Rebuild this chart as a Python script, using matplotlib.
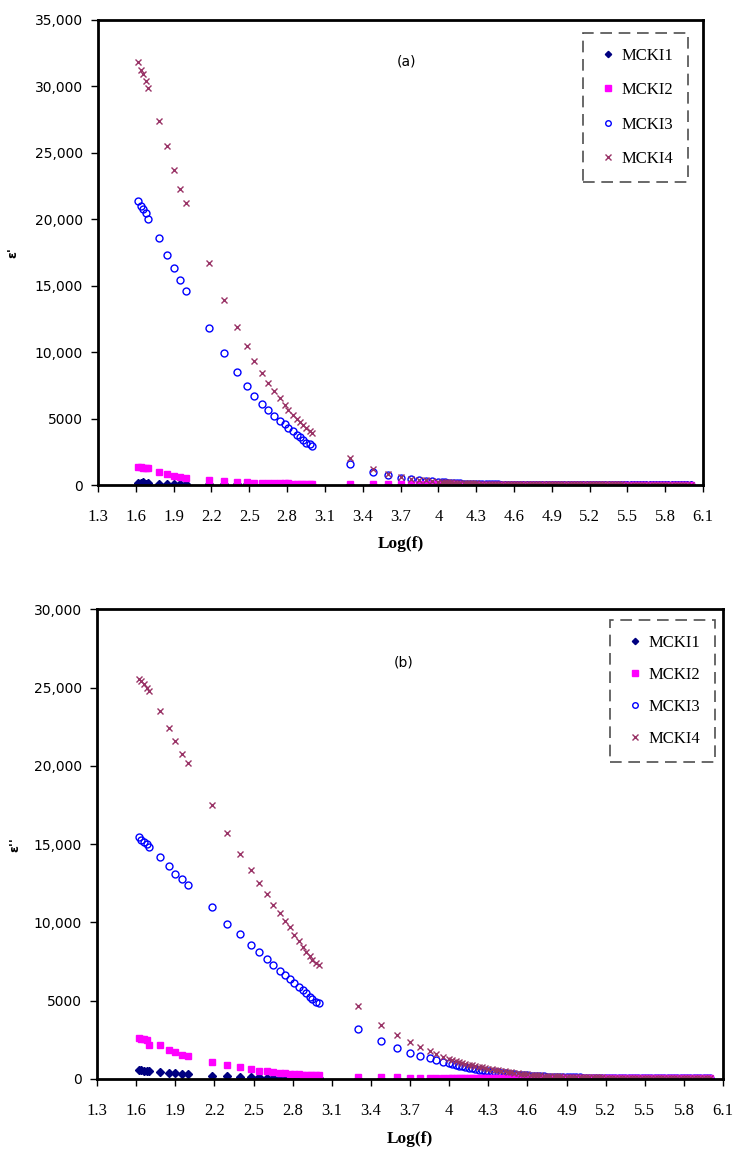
import numpy as np
import matplotlib
matplotlib.use("Agg")
import matplotlib.pyplot as plt
from matplotlib.ticker import FuncFormatter

# log10 of measuring frequency (Hz)
log_f = [1.62, 1.64, 1.66, 1.68, 1.70, 1.78, 1.85, 1.90, 1.95, 2.00,
         2.18, 2.30, 2.40, 2.48, 2.54, 2.60, 2.65, 2.70, 2.74, 2.78,
         2.81, 2.85, 2.88, 2.90, 2.93, 2.95, 2.98, 3.00,
         3.30, 3.48, 3.60, 3.70, 3.78, 3.85, 3.90, 3.95, 4.00,
         4.025, 4.05, 4.075, 4.10, 4.125, 4.15, 4.175, 4.20,
         4.225, 4.25, 4.275, 4.30, 4.325, 4.35, 4.375, 4.40,
         4.425, 4.45, 4.475, 4.50, 4.525, 4.55, 4.575, 4.60,
         4.625, 4.65, 4.675, 4.70, 4.725, 4.75, 4.775, 4.80,
         4.825, 4.85, 4.875, 4.90, 4.925, 4.95, 4.975, 5.00,
         5.025, 5.05, 5.075, 5.10, 5.125, 5.15, 5.175, 5.20,
         5.225, 5.25, 5.275, 5.30, 5.325, 5.35, 5.375, 5.40,
         5.425, 5.45, 5.475, 5.50, 5.525, 5.55, 5.575, 5.60,
         5.625, 5.65, 5.675, 5.70, 5.725, 5.75, 5.775, 5.80,
         5.825, 5.85, 5.875, 5.90, 5.925, 5.95, 5.975, 6.00]

labels = ["MCKI1", "MCKI2", "MCKI3", "MCKI4"]

# (a) real part eps'
eps1_mcki1 = [150, 120, 200, 110, 160, 90, 80, 70, 70, 60,
              60, 50, 45, 40, 38, 36, 34, 32, 30, 30, 28, 28, 26, 26, 25, 25, 24, 24,
              20, 18, 17, 16, 15, 15, 14, 14, 13,
              13, 12, 12, 12, 11, 11, 11, 10,  10, 10, 10, 9, 9, 9, 9, 9,
              9, 8, 8, 8, 8, 8, 8, 8,  8, 7, 7, 7, 7, 7, 7, 7,
              7, 7, 7, 6, 6, 6, 6, 6,  6, 6, 6, 6, 6, 6, 6, 6,
              6, 5, 5, 5, 5, 5, 5, 5,  5, 5, 5, 5, 5, 5, 5, 5,
              5, 5, 5, 5, 5, 5, 5, 5,  5, 5, 5, 5, 5, 5, 5, 5]
eps1_mcki2 = [1380, 1330, 1300, 1280, 1250, 950, 820, 700, 620, 520,
              400, 320, 260, 220, 190, 170, 150, 140, 130, 120, 115, 110, 105, 100, 95, 92, 90, 88,
              70, 60, 55, 50, 48, 46, 45, 44, 43,
              43, 42, 41, 41, 40, 40, 39, 39,  39, 38, 38, 38, 37, 37, 37, 36,
              36, 36, 36, 35, 35, 35, 35, 35,  34, 34, 34, 34, 34, 33, 33, 33,
              33, 33, 33, 33, 32, 32, 32, 32,  32, 32, 32, 31, 31, 31, 31, 31,
              31, 31, 30, 30, 30, 30, 30, 30,  30, 30, 30, 30, 29, 29, 29, 29,
              29, 29, 29, 29, 29, 29, 29, 28,  28, 28, 28, 28, 28, 28, 28, 28]
eps1_mcki3 = [21400, 21000, 20800, 20500, 20000, 18600, 17300, 16300, 15400, 14600,
              11800, 9900, 8500, 7470, 6700, 6100, 5640, 5220, 4840, 4590,
              4300, 4050, 3800, 3600, 3400, 3200, 3050, 2900,
              1580, 1000, 780, 560, 430, 350, 300, 270, 230,
              215, 195, 175, 160, 145, 130, 118, 106,  96, 86, 78, 70, 64, 58, 53, 49,
              46, 43, 41, 39, 38, 37, 36, 35,  35, 34, 34, 34, 33, 33, 33, 33,
              33, 32, 32, 32, 32, 32, 31, 31,  31, 31, 31, 31, 30, 30, 30, 30,
              30, 30, 30, 30, 29, 29, 29, 29,  29, 29, 29, 29, 29, 29, 29, 28,
              28, 28, 28, 28, 28, 28, 28, 28,  28, 28, 28, 28, 27, 27, 27, 27]
eps1_mcki4 = [31800, 31200, 30900, 30400, 29900, 27400, 25500, 23700, 22300, 21200,
              16700, 13900, 11900, 10450, 9350, 8400, 7650, 7100, 6520, 6020,
              5650, 5300, 5000, 4750, 4500, 4300, 4100, 3950,
              2000, 1200, 830, 600, 480, 400, 350, 300, 260,
              245, 230, 215, 200, 187, 175, 165, 155,  145, 135, 127, 120, 113, 108, 103, 98,
              94, 90, 86, 83, 80, 77, 74, 72,  70, 68, 66, 64, 62, 60, 58, 57,
              56, 55, 54, 53, 52, 51, 50, 49,  48, 47, 47, 46, 46, 45, 45, 44,
              44, 43, 43, 42, 42, 41, 41, 40,  40, 40, 39, 39, 39, 38, 38, 38,
              37, 37, 37, 36, 36, 36, 36, 35,  35, 35, 35, 35, 34, 34, 34, 34]

# (b) imaginary part eps''
eps2_mcki1 = [560, 560, 540, 540, 520, 470, 400, 370, 350, 340,
              220, 160, 130, 110, 100, 90, 80, 75, 70, 65, 60, 55, 50, 50, 45, 45, 40, 40,
              30, 28, 26, 24, 22, 21, 20, 19, 18,
              17, 17, 16, 16, 16, 15, 15, 15,  14, 14, 14, 14, 13, 13, 13, 13,
              12, 12, 12, 12, 12, 11, 11, 11,  11, 11, 11, 10, 10, 10, 10, 10,
              10, 10, 9, 9, 9, 9, 9, 9,  9, 9, 9, 9, 9, 8, 8, 8,
              8, 8, 8, 8, 8, 8, 8, 8,  8, 8, 8, 8, 7, 7, 7, 7,
              7, 7, 7, 7, 7, 7, 7, 7,  7, 7, 7, 7, 7, 7, 7, 7]
eps2_mcki2 = [2600, 2550, 2550, 2500, 2200, 2150, 1850, 1740, 1540, 1490,
              1060, 890, 790, 620, 530, 480, 440, 400, 370, 340, 320, 300, 280, 270, 260, 250, 240, 230,
              150, 120, 100, 90, 85, 80, 75, 72, 70,
              69, 68, 67, 66, 65, 64, 63, 62,  61, 60, 59, 58, 58, 57, 57, 56,
              56, 55, 55, 54, 54, 53, 53, 52,  52, 51, 51, 50, 50, 49, 49, 48,
              48, 48, 47, 47, 47, 46, 46, 46,  46, 45, 45, 45, 45, 44, 44, 44,
              44, 43, 43, 43, 43, 43, 42, 42,  42, 42, 42, 41, 41, 41, 41, 41,
              41, 40, 40, 40, 40, 40, 40, 40,  40, 39, 39, 39, 39, 39, 39, 39]
eps2_mcki3 = [15470, 15250, 15150, 15040, 14790, 14190, 13610, 13120, 12760, 12420,
              11000, 9930, 9230, 8590, 8120, 7640, 7270, 6910, 6640, 6380,
              6150, 5890, 5680, 5470, 5250, 5110, 4940, 4830,
              3170, 2430, 1960, 1680, 1470, 1320, 1200, 1100, 1000,
              950, 900, 850, 800, 760, 720, 680, 640,  605, 570, 535, 500, 470, 440, 415, 390,
              365, 340, 320, 300, 280, 260, 242, 225,  210, 195, 182, 170, 160, 150, 142, 135,
              128, 122, 117, 112, 108, 104, 100, 97,  94, 92, 90, 88, 86, 85, 83, 82,
              81, 80, 79, 78, 77, 76, 75, 74,  73, 72, 71, 70, 69, 68, 68, 67,
              67, 66, 66, 65, 65, 64, 64, 63,  63, 62, 62, 61, 61, 61, 60, 60]
eps2_mcki4 = [25570, 25420, 25210, 25000, 24780, 23500, 22420, 21570, 20790, 20210,
              17530, 15720, 14360, 13340, 12530, 11790, 11100, 10610, 10080, 9680,
              9190, 8830, 8440, 8120, 7850, 7590, 7380, 7270,
              4660, 3450, 2810, 2340, 2020, 1810, 1600, 1420, 1280,
              1210, 1150, 1090, 1030, 975, 920, 875, 830,  785, 740, 700, 660, 625, 590, 555, 520,
              490, 460, 430, 400, 375, 350, 325, 300,  280, 260, 245, 230, 215, 200, 190, 180,
              170, 160, 150, 140, 135, 130, 125, 120,  116, 112, 109, 106, 103, 100, 97, 95,
              93, 91, 89, 88, 86, 85, 83, 82,  81, 80, 79, 78, 77, 76, 75, 74,
              73, 72, 71, 70, 69, 69, 68, 68,  67, 67, 66, 66, 65, 65, 64, 64]

x_ticks = [1.3, 1.6, 1.9, 2.2, 2.5, 2.8, 3.1, 3.4, 3.7, 4.0, 4.3, 4.6, 4.9, 5.2, 5.5, 5.8, 6.1]
x_ticklabels = ["1.3", "1.6", "1.9", "2.2", "2.5", "2.8", "3.1", "3.4", "3.7", "4",
                "4.3", "4.6", "4.9", "5.2", "5.5", "5.8", "6.1"]

# circles sit under the squares so the crowded tail reads magenta/maroon
styles = [dict(marker="D", color="#000080", ms=4, mfc="#000080", zorder=2.0),
          dict(marker="s", color="#FF00FF", ms=5, mfc="#FF00FF", zorder=2.2),
          dict(marker="o", color="#0000FF", ms=5, mfc="none", mew=1.0, zorder=2.1),
          dict(marker="x", color="#993366", ms=5, mew=1.0, zorder=2.3)]


def yfmt(v, pos):
    return f"{v:,.0f}" if v >= 10000 else f"{v:.0f}"


def draw_panel(ax, series, ymax, tag, tag_xy, ylab, ylab_x, leg_anchor, spacing):
    x = np.array(log_f)
    for ys, lab, st in zip(series, labels, styles):
        ax.plot(x, ys, linestyle="none", label=lab, **st)
    ax.set_xlim(1.3, 6.1)
    ax.set_ylim(0, ymax)
    ax.set_xticks(x_ticks)
    ax.set_xticklabels(x_ticklabels, fontfamily="Liberation Serif", fontsize=12)
    ax.set_yticks(np.arange(0, ymax + 1, 5000))
    ax.yaxis.set_major_formatter(FuncFormatter(yfmt))
    ax.tick_params(axis="x", direction="out", length=5, width=1, pad=12)
    ax.tick_params(axis="y", direction="out", length=5, width=1, labelsize=10, pad=6)
    for sp in ax.spines.values():
        sp.set_linewidth(2)
    ax.text(tag_xy[0], tag_xy[1], tag, transform=ax.transAxes, fontsize=10, ha="center", va="center")
    ax.text(ylab_x, 0.5, ylab, transform=ax.transAxes, rotation=90, fontsize=9,
            fontweight="bold", ha="center", va="center")
    ax.text(0.5, -0.127, "Log(f)", transform=ax.transAxes, fontsize=12.5, fontweight="bold",
            fontfamily="Liberation Serif", ha="center", va="center")
    leg = ax.legend(loc="upper right", bbox_to_anchor=leg_anchor, frameon=True, fancybox=False,
                    prop={"family": "Liberation Serif", "size": 12}, borderpad=0.9,
                    handlelength=1.2, handletextpad=0.2, labelspacing=spacing, borderaxespad=0,
                    markerscale=0.8)
    fr = leg.get_frame()
    fr.set_edgecolor("#222222")
    fr.set_linewidth(1.2)
    fr.set_linestyle((0, (7, 4)))


fig = plt.figure(figsize=(7.48, 11.54), dpi=100)
ax1 = fig.add_axes([0.131, 0.5797, 0.809, 0.403])
ax2 = fig.add_axes([0.1297, 0.065, 0.837, 0.407])

draw_panel(ax1, [eps1_mcki1, eps1_mcki2, eps1_mcki3, eps1_mcki4], 35000, "(a)", (0.51, 0.91),
           "ε'", -0.14, (0.975, 0.972), 1.1)
draw_panel(ax2, [eps2_mcki1, eps2_mcki2, eps2_mcki3, eps2_mcki4], 30000, "(b)", (0.49, 0.887),
           "ε''", -0.131, (0.987, 0.977), 0.95)

fig.savefig("out.png", dpi=100)
